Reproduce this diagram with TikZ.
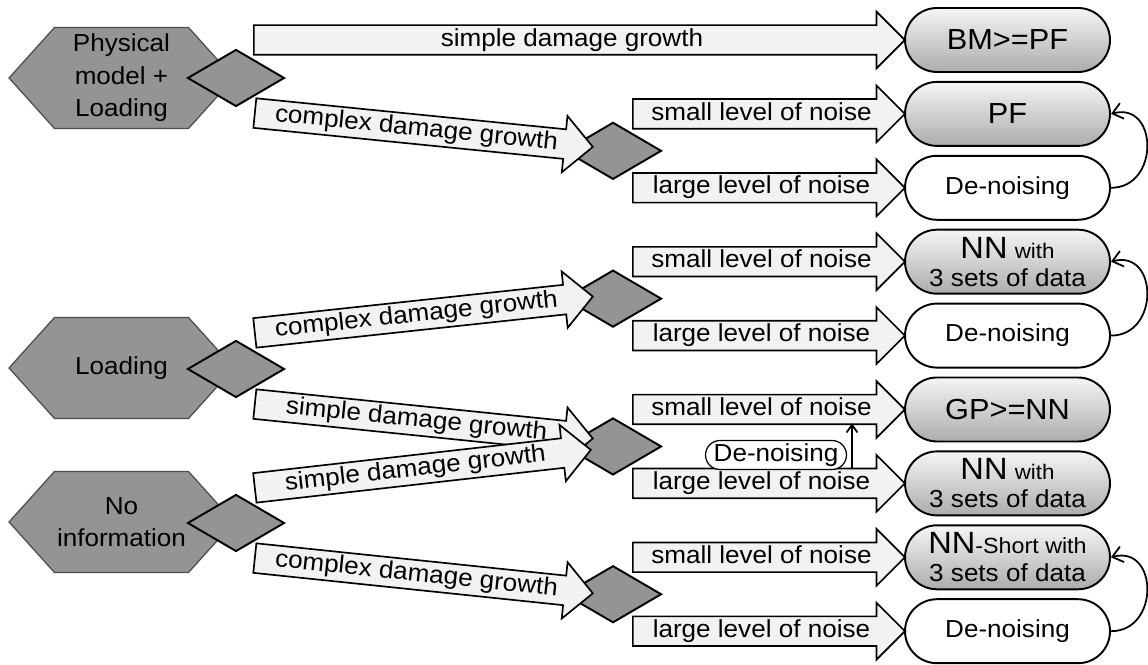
\documentclass[tikz,border=0pt]{standalone}
\usepackage{fontspec}
\setmainfont{Liberation Sans}[FakeStretch=1.06]
\usetikzlibrary{shapes.geometric,shapes.symbols,shapes.arrows,shapes.misc,calc,arrows.meta}

\definecolor{shapegray}{gray}{0.58}
\definecolor{arrowfill}{gray}{0.95}

% block arrow from tail to tip, text along it
\newcommand{\flow}[4]{%
  \path let \p1=($(#3)-(#2)$), \n1={atan2(\y1,\x1)}, \n2={veclen(\x1,\y1)} in
    node[flowarrow, minimum height=\n2, rotate=\n1, anchor=tail] (#1) at (#2) {#4};}

\begin{document}
\begin{tikzpicture}[x=0.02cm, y=0.02cm,
  basefont/.style={font=\fontsize{14}{18.5}\selectfont},
  hexbox/.style={signal, signal to=west and east, signal pointer angle=96,
    draw=black!70, line width=0.7pt, fill=shapegray, minimum width=4.5cm,
    minimum height=2.02cm, inner sep=0pt, align=center, basefont},
  choice/.style={diamond, draw, line width=1.1pt, fill=shapegray,
    minimum width=1.94cm, minimum height=1.14cm, inner sep=0pt},
  flowarrow/.style={single arrow, draw, line width=0.95pt, fill=arrowfill,
    single arrow head extend=0.27cm, single arrow tip angle=90,
    text height=10pt, text depth=3pt, inner ysep=1.47pt, inner xsep=2pt, basefont},
  pill/.style={rounded rectangle, draw, line width=1.1pt, minimum width=4.1cm,
    minimum height=1.28cm, inner sep=0pt, align=center,
    font=\fontsize{14}{16}\selectfont},
  resultbox/.style={pill, top color=gray!8, bottom color=gray!65},
  denoisebox/.style={pill, fill=white},
  loopback/.style={line width=1pt, -{Straight Barb[length=0.2cm, width=0.32cm]}}
]
  \useasboundingbox (0,0) rectangle (1148,665);

  % Starting knowledge
  \node[hexbox] (phys) at (121.5,587) {Physical\\model +\\Loading};
  \node[hexbox] (load) at (121.5,297) {Loading};
  \node[hexbox] (noinfo) at (121.5,143) {No\\information};

  % First decisions
  \node[choice] (dphys) at (236,587) {};
  \node[choice] (dload) at (236,296) {};
  \node[choice] (dnoinfo) at (236,142) {};

  % Recommended methods
  \node[resultbox] (bmpf) at (1007.5,625) {\fontsize{16.5}{18}\selectfont BM>=PF};
  \node[resultbox] (pf) at (1007.5,551.1) {\fontsize{16.5}{18}\selectfont PF};
  \node[denoisebox] (dn1) at (1007.5,477.2) {De-noising};
  \node[resultbox] (nn1) at (1007.5,403.3) {{\fontsize{17.5}{18}\selectfont NN} {\fontsize{12}{14}\selectfont with}\\3 sets of data};
  \node[denoisebox] (dn2) at (1007.5,329.4) {De-noising};
  \node[resultbox] (gpnn) at (1007.5,255.5) {\fontsize{16.5}{18}\selectfont GP>=NN};
  \node[resultbox] (nn2) at (1007.5,181.6) {{\fontsize{17.5}{18}\selectfont NN} {\fontsize{12}{14}\selectfont with}\\3 sets of data};
  \node[resultbox] (nns) at (1007.5,107.7) {{\fontsize{17.5}{18}\selectfont NN}{\fontsize{12.5}{14}\selectfont -Short with}\\3 sets of data};
  \node[denoisebox] (dn3) at (1007.5,33.8) {De-noising};

  % Second decisions (noise level)
  \node[choice] (dphysc) at (613,514.15) {};
  \node[choice] (dloadc) at (613,366.35) {};
  \node[choice] (dloads) at (613,218.55) {};
  \node[choice] (dnoinfoc) at (613,70.75) {};

  % Damage growth arrows
  \coordinate (t0) at (253,0 |- bmpf);
  \flow{a0}{t0}{bmpf.west}{simple damage growth}
  \coordinate (t1) at ($(dphys)+(18,-35)$);
  \coordinate (h1) at ($(dphysc)+(-21,4)$);
  \flow{a1}{t1}{h1}{complex damage growth}
  \coordinate (t2) at ($(dload)+(18,36)$);
  \coordinate (h2) at ($(dloadc)+(-21,2)$);
  \flow{a2}{t2}{h2}{complex damage growth}
  \coordinate (t3) at ($(dload)+(18,-35)$);
  \coordinate (h3) at ($(dloads)+(-21,8)$);
  \flow{a3}{t3}{h3}{simple damage growth}
  \coordinate (t4) at ($(dnoinfo)+(18,35)$);
  \coordinate (h4) at ($(dloads)+(-23,-3.5)$);
  \flow{a4}{t4}{h4}{simple damage growth}
  \coordinate (t5) at ($(dnoinfo)+(18,-35)$);
  \coordinate (h5) at ($(dnoinfoc)+(-21,1)$);
  \flow{a5}{t5}{h5}{complex damage growth}

  % Noise level arrows
  \coordinate (s1) at (632,0 |- pf);
  \flow{n1}{s1}{pf.west}{small level of noise}
  \coordinate (l1) at (632,0 |- dn1);
  \flow{n2}{l1}{dn1.west}{large level of noise}
  \coordinate (s2) at (632,0 |- nn1);
  \flow{n3}{s2}{nn1.west}{small level of noise}
  \coordinate (l2) at (632,0 |- dn2);
  \flow{n4}{l2}{dn2.west}{large level of noise}
  \coordinate (s3) at (632,0 |- gpnn);
  \flow{n5}{s3}{gpnn.west}{small level of noise}
  \coordinate (l3) at (632,0 |- nn2);
  \flow{n6}{l3}{nn2.west}{large level of noise}
  \coordinate (s4) at (632,0 |- nns);
  \flow{n7}{s4}{nns.west}{small level of noise}
  \coordinate (l4) at (632,0 |- dn3);
  \flow{n8}{l4}{dn3.west}{large level of noise}

  % De-noising loops
  \draw[loopback] (dn1.east) to[out=0, in=15, looseness=1.7] (pf.east);
  \draw[loopback] (dn2.east) to[out=0, in=15, looseness=1.7] (nn1.east);
  \draw[loopback] (dn3.east) to[out=0, in=15, looseness=1.7] (nns.east);

  % De-noising between the two levels
  \node[rounded rectangle, draw, line width=0.7pt, fill=white, minimum width=2.82cm,
    minimum height=0.58cm, inner sep=0pt, basefont] (dnmid) at (776,210) {De-noising};
  \coordinate (liftfrom) at (852,195.6);
  \coordinate (liftto) at (852,241.5);
  \draw[line width=1pt, -{Straight Barb[length=0.15cm, width=0.22cm]}] (liftfrom) -- (liftto);

\end{tikzpicture}
\end{document}
